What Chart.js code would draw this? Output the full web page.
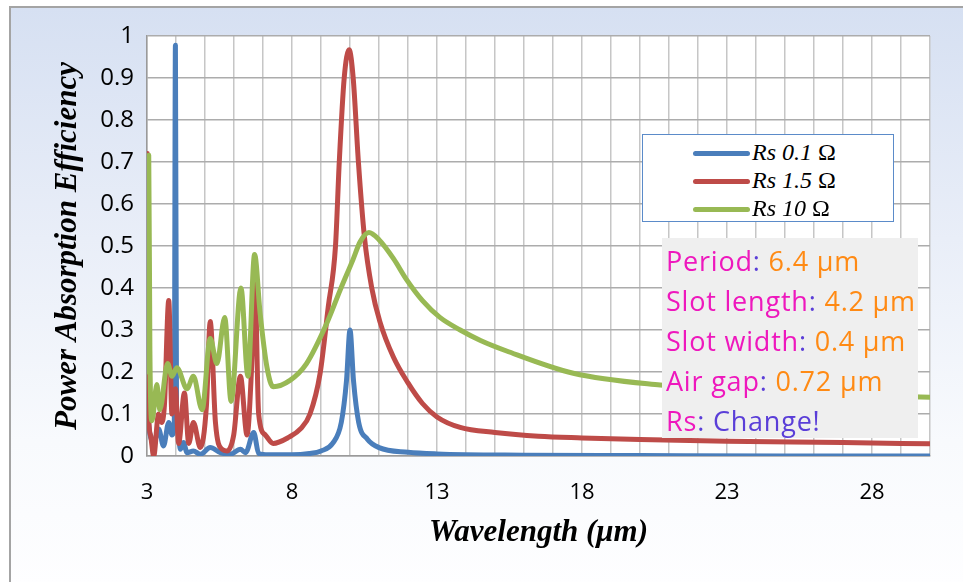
<!DOCTYPE html>
<html>
<head>
<meta charset="utf-8">
<title>Power Absorption Efficiency</title>
<script src="https://cdn.jsdelivr.net/npm/chart.js@4.4.1/dist/chart.umd.min.js"></script>
<style>
  html, body { margin: 0; padding: 0; background: #fff; }
  #wrap { position: relative; width: 963px; height: 582px; overflow: hidden; }
  #frame {
    position: absolute; left: 9px; top: 6px; right: -4px; bottom: -4px;
    border-left: 2px solid #a4a4a4; border-top: 2px solid #a4a4a4;
    background: linear-gradient(to bottom, #d6e0f2 0%, #e9eef8 40%, #f8fafd 75%, #fefeff 100%);
  }
  #chart { position: absolute; left: 0; top: 0; }
  #legend {
    position: absolute; left: 642px; top: 134px; width: 250px; height: 86px;
    border: 1px solid #5b8bc9; background: #fff;
  }
  #legend .row { position: absolute; left: 0; height: 28px; width: 100%; }
  #legend .swatch { position: absolute; left: 50px; top: 12px; width: 57px; height: 5px; border-radius: 3px; }
  #legend .txt {
    position: absolute; left: 109px; top: 0; line-height: 28px;
    font: italic 24px "Liberation Serif", "DejaVu Serif", serif; color: #000; white-space: nowrap;
  }
  #legend .txt .ohm { font-style: normal; }
  #note {
    position: absolute; left: 662px; top: 238px; width: 256px; height: 200px;
    background: #efefef; box-sizing: border-box; padding: 3px 0 0 4px;
    font: 27px "Open Sans", sans-serif; letter-spacing: 0.8px; line-height: 40px; white-space: nowrap;
  }
  #note .k { color: #ee18bd; }
  #note .c { color: #5a3ed8; }
  #note .v { color: #ff8a14; }
  #note .w { color: #5a3ed8; }
</style>
</head>
<body>
<div id="wrap">
  <div id="frame"></div>
  <canvas id="chart" width="963" height="582"></canvas>
  <div id="legend"></div>
  <div id="note">
    <div><span class="k">Period</span><span class="c">:</span> <span class="v">6.4 μm</span></div>
    <div><span class="k">Slot length</span><span class="c">:</span> <span class="v">4.2 μm</span></div>
    <div><span class="k">Slot width</span><span class="c">:</span> <span class="v">0.4 μm</span></div>
    <div><span class="k">Air gap</span><span class="c">:</span> <span class="v">0.72 μm</span></div>
    <div><span class="k">Rs</span><span class="c">:</span> <span class="w">Change!</span></div>
  </div>
</div>
<script>
// series names and colours
const seriesLabels = ['Rs 0.1 Ω', 'Rs 1.5 Ω', 'Rs 10 Ω'];
const seriesColors = ['#4a7ebb', '#be4b48', '#98b954'];

// tick labels
const waveTicks = [3, 8, 13, 18, 23, 28];
const yTickLabels = ['0', '0.1', '0.2', '0.3', '0.4', '0.5', '0.6', '0.7', '0.8', '0.9', '1'];

// Rs = 0.1 ohm
const blueX = [3.0, 3.09, 3.23, 3.4, 3.57, 3.75, 3.86, 3.94, 3.98, 4.02, 4.06, 4.15, 4.26, 4.38, 4.6, 4.84,
  5.18, 5.53, 5.87, 6.22, 6.4, 6.68, 6.85, 7.2, 8.0, 8.6, 9.0, 9.4, 9.7, 9.88, 10.0, 10.12, 10.3, 10.6,
  11.0, 12.0, 13.0, 16.0, 20.0, 25.0, 30.0];
const blueY = [0.12, 0.056, 0.03, 0.064, 0.024, 0.08, 0.05, 0.08, 0.978, 0.08, 0.064, 0.016, 0.032, 0.008, 0.012, 0.004,
  0.02, 0.008, 0.004, 0.016, 0.008, 0.056, 0.006, 0.003, 0.003, 0.006, 0.012, 0.03, 0.08, 0.18, 0.30, 0.18, 0.08, 0.04,
  0.02, 0.009, 0.005, 0.002, 0.001, 0.0, 0.0];

// Rs = 1.5 ohm
const redX = [3.0, 3.01, 3.04, 3.12, 3.23, 3.4, 3.5, 3.6, 3.75, 3.86, 3.98, 4.09, 4.29, 4.44, 4.6, 4.84, 5.05,
  5.18, 5.36, 5.59, 5.76, 5.99, 6.22, 6.45, 6.6, 6.72, 6.85, 7.08, 7.35, 7.9, 8.3, 8.62, 8.97, 9.25, 9.5,
  9.63, 9.8, 9.97, 10.11, 10.29, 10.5, 10.75, 11.03, 11.5, 12.0, 12.5, 13.0, 13.8, 15.0, 16.5, 18.0, 20.0,
  23.0, 27.0, 30.0];
const redY = [0.14, 0.72, 0.14, 0.05, 0.0, 0.1, 0.08, 0.12, 0.37, 0.1, 0.16, 0.03, 0.15, 0.03, 0.08, 0.02, 0.12,
  0.32, 0.08, 0.016, 0.012, 0.05, 0.19, 0.05, 0.2, 0.42, 0.1, 0.05, 0.03, 0.045, 0.065, 0.1, 0.197, 0.355, 0.5,
  0.7, 0.9, 0.967, 0.9, 0.7, 0.52, 0.40, 0.32, 0.235, 0.174, 0.125, 0.093, 0.068, 0.056, 0.047, 0.043, 0.039,
  0.035, 0.032, 0.029];

// Rs = 10 ohm
const greenX = [3.0, 3.06, 3.1, 3.17, 3.34, 3.44, 3.71, 3.86, 4.03, 4.38, 4.6, 4.9, 5.18, 5.41, 5.68,
  5.9, 6.24, 6.48, 6.71, 6.9, 7.14, 7.35, 7.93, 8.5, 9.2, 9.66, 10.1, 10.35, 10.65, 11.0, 11.5, 11.95, 12.5,
  13.1, 13.8, 14.5, 15.4, 17.7, 20.7, 25.0, 30.0];
const greenY = [0.2, 0.716, 0.25, 0.084, 0.17, 0.11, 0.22, 0.19, 0.21, 0.16, 0.19, 0.11, 0.28, 0.22, 0.33,
  0.13, 0.40, 0.19, 0.48, 0.34, 0.21, 0.165, 0.18, 0.22, 0.316, 0.395, 0.467, 0.51, 0.532, 0.515, 0.47, 0.42, 0.37,
  0.33, 0.30, 0.275, 0.25, 0.197, 0.169, 0.15, 0.14];

const toPoints = (xs, ys) => xs.map((x, i) => ({ x: x, y: ys[i] }));
const seriesData = [toPoints(blueX, blueY), toPoints(redX, redY), toPoints(greenX, greenY)];

// white plot area on top of the gradient frame
const plotBackground = {
  id: 'plotBackground',
  beforeDraw(chart) {
    const { ctx, chartArea: a } = chart;
    ctx.save();
    ctx.fillStyle = '#ffffff';
    ctx.fillRect(a.left, a.top, a.right - a.left, a.bottom - a.top);
    ctx.restore();
  }
};

const titleFont = { family: '"Liberation Serif", "DejaVu Serif", serif', size: 31, weight: 'bold', style: 'italic' };
const tickFont = { family: '"Open Sans", sans-serif' };

const chart = new Chart(document.getElementById('chart'), {
  type: 'line',
  data: {
    datasets: seriesData.map((pts, i) => ({
      label: seriesLabels[i],
      data: pts,
      borderColor: seriesColors[i],
      backgroundColor: seriesColors[i],
      borderWidth: 5,
      pointRadius: 0,
      fill: false,
      cubicInterpolationMode: 'monotone',
      borderCapStyle: 'round',
      borderJoinStyle: 'round',
      order: 2 - i
    }))
  },
  options: {
    responsive: false,
    animation: false,
    events: [],
    layout: { padding: { left: 0, top: 36, right: 33, bottom: 0 } },
    plugins: { legend: { display: false }, tooltip: { enabled: false } },
    scales: {
      x: {
        type: 'linear',
        min: 3,
        max: 30,
        afterFit(scale) { scale.height = 126; },
        grid: { color: '#c6c6c6', lineWidth: 1.5, drawTicks: false },
        border: { color: '#9a9a9a', width: 1.5 },
        ticks: {
          stepSize: 1,
          autoSkip: false,
          maxRotation: 0,
          padding: 24,
          color: '#000',
          font: { family: tickFont.family, size: 22 },
          callback: v => waveTicks.includes(v) ? String(v) : ''
        },
        title: {
          display: true,
          text: 'Wavelength (μm)',
          color: '#000',
          font: titleFont,
          padding: { top: 0, bottom: 30 }
        }
      },
      y: {
        min: 0,
        max: 1,
        afterFit(scale) { scale.width = 147; },
        grid: { color: '#acacac', lineWidth: 1.5, drawTicks: false },
        border: { color: '#9a9a9a', width: 1.5 },
        ticks: {
          stepSize: 0.1,
          padding: 13,
          color: '#000',
          font: { family: tickFont.family, size: 24 },
          callback: (v, i) => yTickLabels[i]
        },
        title: {
          display: true,
          text: 'Power Absorption Efficiency',
          color: '#000',
          font: titleFont,
          padding: { top: 49, bottom: 0 }
        }
      }
    }
  },
  plugins: [plotBackground]
});

// legend entries built from the datasets; the ohm sign stays upright
const legend = document.getElementById('legend');
chart.data.datasets.forEach((ds, i) => {
  const row = document.createElement('div');
  row.className = 'row';
  row.style.top = (4 + i * 28) + 'px';
  const name = ds.label.replace(' Ω', ' ');
  row.innerHTML = '<div class="swatch" style="background:' + ds.borderColor + '"></div>' +
    '<div class="txt">' + name + '<span class="ohm">Ω</span></div>';
  legend.appendChild(row);
});
</script>
</body>
</html>
